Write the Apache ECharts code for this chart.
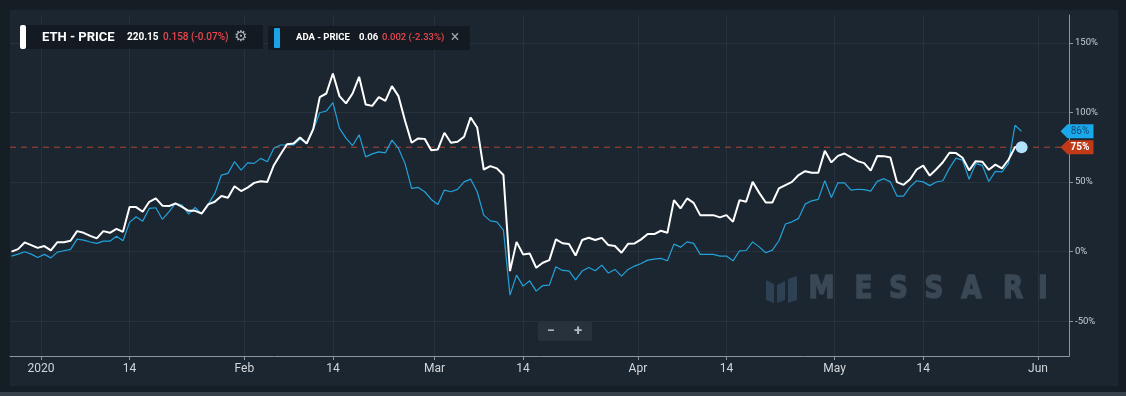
<!DOCTYPE html>
<html><head><meta charset="utf-8">
<script src="https://cdn.jsdelivr.net/npm/echarts@6/dist/echarts.min.js"></script>
<style>html,body{margin:0;padding:0;background:#151d25;}#c{width:1126px;height:396px;}</style>
</head><body><div id="c"></div>
<script>
// ---- data ----
const START_DATE = '2019-12-27T12:00:00Z'; // first daily point, one point per day
const ethValues = [
  0, 1.8, 6.6, 4.7, 2.7, 4, 0.9, 6.8, 6.8, 7.8,
  14.7, 13.5, 11.3, 9.5, 14.7, 13.5, 16.4, 14.2, 32, 32,
  28.6, 35.8, 38.2, 33, 32.7, 34.6, 32.2, 29.3, 29.3, 27.4,
  33.9, 35.8, 39.9, 38.7, 47, 43.5, 46, 49.4, 50.6, 50.1,
  62.1, 69.8, 77.2, 77.7, 82, 77.7, 88, 111, 113.6, 128,
  111.7, 106.5, 113.6, 125.6, 105.7, 104.7, 111, 108.3, 118.9, 111.7,
  94, 78.2, 81.3, 81, 72.9, 73.4, 85.4, 78.2, 78.9, 82.5,
  96.4, 89.2, 59, 61.4, 59.8, 55, -14, 7, -2, -1.3,
  -11.6, -8, -6.1, 8.8, 6, 5.5, -2.8, 8.3, 10, 8.3,
  9.9, 4.7, 4, -0.8, 5.6, 5.9, 8.8, 12.6, 12.6, 15,
  13.5, 37, 31, 38.2, 35, 26.2, 26.2, 26.2, 24.6, 26.2,
  21.4, 37, 35.8, 50.1, 42.2, 35.3, 35.3, 45.4, 47.8, 50.1,
  55, 57.8, 56.6, 56.6, 72.4, 64.1, 68.8, 70.5, 67.7, 65,
  63.6, 58.2, 68.7, 68.6, 67.6, 49.9, 48, 52, 59, 61.8,
  54.6, 59.2, 64.2, 71, 70.8, 67.4, 58.4, 65, 64.6, 58.8,
  62.5, 59.8, 66, 75.1, 75
];
const adaValues = [
  -3.2, -1.8, -0.1, -1.8, -4.2, -2, -4.5, -0.4, 0.6, 1.6,
  9, 8.3, 6.9, 5.9, 7.5, 7.5, 11.1, 7.8, 21, 25,
  21.9, 31, 31.5, 23.2, 28.6, 34.6, 33.4, 26.9, 31.7, 26.9,
  34.1, 41.8, 55, 56.2, 64.6, 58.6, 63.8, 63.4, 67, 64.6,
  74.2, 76.6, 76.6, 76.6, 80.9, 77.7, 87.4, 99.8, 101, 107,
  88.6, 81.5, 76.2, 84, 68.1, 70.2, 71.7, 71, 80.1, 74.1,
  63.4, 45.4, 46.1, 43, 37.5, 33.9, 44.2, 43, 44.7, 50.1,
  52.1, 43, 26.2, 22.1, 21.4, 15.4, -31.3, -16.9, -24.8, -21,
  -28.4, -24.4, -24.1, -10.9, -13.5, -13.8, -20.3, -14, -11.4, -13.8,
  -9.7, -15.4, -12.8, -17.6, -12.8, -10.4, -8.5, -6.1, -5.4, -4.9,
  -6.6, 5.4, 3.2, 7, 5.9, -2, -2, -2, -3.2, -3.2,
  -6.6, 0.6, 0.8, 7, 3.4, -0.8, 1.1, 7.8, 19.8, 21.4,
  23.9, 34.1, 36.5, 37.5, 50.9, 38.9, 49.4, 49.4, 44.2, 44.8,
  44.5, 43.4, 50.5, 52.4, 50.1, 39.9, 39.9, 46.5, 50.9, 50.1,
  47.4, 50, 50.9, 60, 67.2, 65.7, 52, 63.2, 62, 50.4,
  57.7, 57.3, 63.4, 90.8, 86.4
];
const tickDates = ['2020-01-01T00:00:00Z','2020-01-14T12:00:00Z','2020-02-01T00:00:00Z','2020-02-14T12:00:00Z',
  '2020-03-01T00:00:00Z','2020-03-14T12:00:00Z','2020-04-01T00:00:00Z','2020-04-14T12:00:00Z',
  '2020-05-01T00:00:00Z','2020-05-14T12:00:00Z','2020-06-01T00:00:00Z'];
const tickLabels = ['2020','14','Feb','14','Mar','14','Apr','14','May','14','Jun'];
const yTicks = [-50, 0, 50, 100, 150];
const ethLegend = ['ETH - PRICE', '220.15', '0.158 (-0.07%)'];
const adaLegend = ['ADA - PRICE', '0.06', '0.002 (-2.33%)'];
const watermarkLetters = ['M','E','S','S','A','R','I'];

// ---- build ----
const DAY = 86400000;
const t0 = Date.parse(START_DATE);
const ethData = ethValues.map((v, i) => [t0 + i * DAY, v]);
const adaData = adaValues.map((v, i) => [t0 + i * DAY, v]);
const tickVals = tickDates.map(d => Date.parse(d));
const jan1 = Date.parse('2020-01-01T00:00:00Z');
const xMin = jan1 - 4.73 * DAY;
const xMax = jan1 + 156.73 * DAY;
const lastEth = ethValues[ethValues.length - 1];
const lastAda = adaValues[adaValues.length - 1];
const lastT = ethData[ethData.length - 1][0];
const refLine = [[xMin, lastEth], [xMax, lastEth]]; // horizontal reference at last ETH value
const BADGE = 'path://M0,7 L7,0 L33,0 L33,14 L7,14 Z';
const REF_RED = '#b04634';

const chart = echarts.init(document.getElementById('c'), null, {renderer: 'canvas'});
const FONT = 'Roboto, "Noto Sans", sans-serif';
const WMFONT = '"DejaVu Sans", sans-serif';
const wmX = [821.5, 863.5, 898.5, 934, 971.5, 1013, 1043];

const graphic = [
  {type: 'rect', z: -10, silent: true, shape: {x: 10, y: 10, width: 1108, height: 376}, style: {fill: '#1c2631'}},
  {type: 'rect', z: -10, silent: true, shape: {x: 0, y: 392, width: 1126, height: 4}, style: {fill: '#36414c'}},
  // legend 1
  {type: 'rect', z: 20, shape: {x: 20, y: 25, width: 243, height: 24}, style: {fill: '#131a22'}},
  {type: 'rect', z: 21, shape: {x: 20, y: 25, width: 6, height: 24, r: 2}, style: {fill: '#ffffff'}},
  {type: 'text', z: 21, x: 42, y: 37.5, style: {text: ethLegend[0], fill: '#fff', font: 'bold 13px ' + FONT, textVerticalAlign: 'middle'}},
  {type: 'text', z: 21, x: 127, y: 37.5, style: {text: ethLegend[1], fill: '#fff', font: 'bold 10px ' + FONT, textVerticalAlign: 'middle'}},
  {type: 'text', z: 21, x: 163, y: 37.5, style: {text: ethLegend[2], fill: '#e8474f', font: '500 10px ' + FONT, textVerticalAlign: 'middle'}},
  {type: 'text', z: 21, x: 241, y: 37.5, style: {text: '\u2699', fill: '#aab1b8', font: '15px "DejaVu Sans"', textAlign: 'center', textVerticalAlign: 'middle'}},
  // legend 2
  {type: 'rect', z: 20, shape: {x: 268, y: 26, width: 202, height: 24}, style: {fill: '#131a22'}},
  {type: 'rect', z: 21, shape: {x: 274, y: 28, width: 6, height: 20, r: 1}, style: {fill: '#1aa3e8'}},
  {type: 'text', z: 21, x: 296, y: 38, style: {text: adaLegend[0], fill: '#fff', font: 'bold 9.5px ' + FONT, textVerticalAlign: 'middle'}},
  {type: 'text', z: 21, x: 359, y: 38, style: {text: adaLegend[1], fill: '#fff', font: 'bold 9.5px ' + FONT, textVerticalAlign: 'middle'}},
  {type: 'text', z: 21, x: 382, y: 38, style: {text: adaLegend[2], fill: '#e8474f', font: '500 9.5px ' + FONT, textVerticalAlign: 'middle'}},
  {type: 'text', z: 21, x: 455, y: 38, style: {text: '\u00d7', fill: '#9aa2aa', font: '16px ' + FONT, textAlign: 'center', textVerticalAlign: 'middle'}},
  // watermark logo
  {type: 'polygon', z: -5, silent: true, shape: {points: [[766,280],[774,284],[774,303],[766,300]]}, style: {fill: '#2e4154'}},
  {type: 'polygon', z: -5, silent: true, shape: {points: [[777,285],[785,281],[785,300],[777,303]]}, style: {fill: '#2e4154'}},
  {type: 'polygon', z: -5, silent: true, shape: {points: [[788,279],[797,276],[797,300],[788,303]]}, style: {fill: '#2e4154'}},
  // zoom control
  {type: 'rect', z: 20, shape: {x: 538, y: 322, width: 54, height: 19, r: 2}, style: {fill: '#28323d'}},
  {type: 'text', z: 21, x: 551, y: 331.5, style: {text: '\u2212', fill: '#b0b8c0', font: 'bold 14px ' + FONT, textAlign: 'center', textVerticalAlign: 'middle'}},
  {type: 'text', z: 21, x: 578, y: 331.5, style: {text: '+', fill: '#b0b8c0', font: 'bold 15px ' + FONT, textAlign: 'center', textVerticalAlign: 'middle'}}
];
watermarkLetters.forEach((ch, i) => {
  graphic.push({type: 'text', z: -5, silent: true, x: wmX[i], y: 290, scaleX: 0.82,
    style: {text: ch, fill: '#3a4755', stroke: '#3a4755', lineWidth: 1.6,
      font: 'bold 32px ' + WMFONT, textAlign: 'center', textVerticalAlign: 'middle'}});
});

const option = {
  animation: false,
  backgroundColor: '#151d25',
  graphic: graphic,
  grid: {left: 10, right: 57, top: 15, bottom: 40},
  xAxis: {
    type: 'value', min: xMin, max: xMax,
    axisLine: {show: true, onZero: false, lineStyle: {color: '#8d959d', width: 1}},
    axisTick: {show: true, customValues: tickVals, length: 4, lineStyle: {color: '#8d959d'}},
    axisLabel: {customValues: tickVals, color: '#d3d7db', fontSize: 12, fontFamily: FONT, margin: 7,
      formatter: v => { const i = tickVals.indexOf(v); return i >= 0 ? tickLabels[i] : ''; }},
    splitLine: {show: true, lineStyle: {color: '#27323e', width: 1}}
  },
  yAxis: {
    type: 'value', position: 'right', min: -75, max: 170,
    axisLine: {show: true, onZero: false, lineStyle: {color: '#8d959d', width: 1}},
    axisTick: {show: true, customValues: yTicks, length: 4, lineStyle: {color: '#8d959d'}},
    axisLabel: {customValues: yTicks, formatter: '{value}%', color: '#c6ccd2', fontSize: 9.5, fontFamily: FONT, margin: 6},
    splitLine: {show: true, lineStyle: {color: '#27323e', width: 1}}
  },
  series: [
    {
      name: 'ref', type: 'line', data: refLine, showSymbol: false, silent: true, z: 2,
      lineStyle: {color: REF_RED, type: [6, 5], width: 1}, itemStyle: {color: REF_RED},
      emphasis: {disabled: true}
    },
    {
      name: 'ADA - PRICE', type: 'line', data: adaData, showSymbol: false, z: 3,
      lineStyle: {color: '#22a2da', width: 1.2}, itemStyle: {color: '#22a2da'},
      markPoint: {silent: true, animation: false, data: [
        {coord: [xMax, lastAda], symbol: BADGE, symbolSize: [33, 14], symbolOffset: [8, 0],
          itemStyle: {color: '#19a8ea'},
          label: {show: true, formatter: Math.round(lastAda) + '%', color: '#124a72', fontSize: 10, fontFamily: FONT, offset: [3, 0]}}
      ]}
    },
    {
      name: 'ETH - PRICE', type: 'line', data: ethData, showSymbol: false, z: 4,
      lineStyle: {color: '#ffffff', width: 2}, itemStyle: {color: '#ffffff'},
      markPoint: {silent: true, animation: false, data: [
        {coord: [xMax, lastEth], symbol: BADGE, symbolSize: [33, 14], symbolOffset: [8, 0],
          itemStyle: {color: '#c03a17'},
          label: {show: true, formatter: Math.round(lastEth) + '%', color: '#ffffff', fontSize: 10, fontWeight: 'bold', fontFamily: FONT, offset: [3, 0]}},
        {coord: [lastT, lastEth], symbol: 'circle', symbolSize: 12, itemStyle: {color: '#b2e1f9'}, label: {show: false}}
      ]}
    }
  ]
};
chart.setOption(option);
</script></body></html>
